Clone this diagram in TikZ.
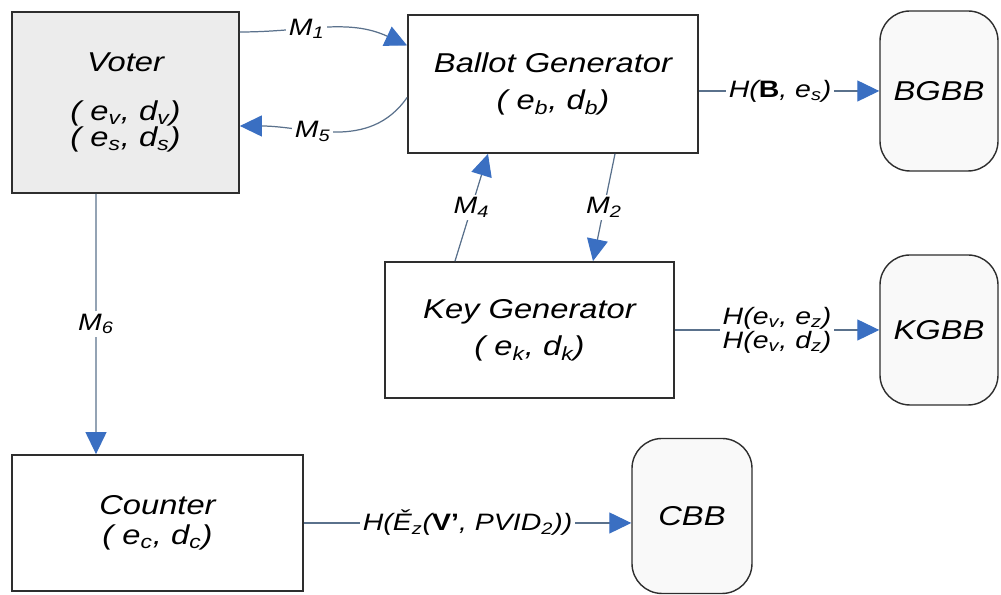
\documentclass[tikz,border=0pt]{standalone}
\usepackage{fontspec}
\setmainfont[FakeStretch=1.2]{Liberation Sans}
\definecolor{vsBorder}{HTML}{2E2E2E}
\definecolor{vsLine}{HTML}{5A718C}
\definecolor{vsArrow}{HTML}{3A6FC2}
\definecolor{vsVoter}{HTML}{ECECEC}
\definecolor{vsBoard}{HTML}{F9F9F9}
\usetikzlibrary{arrows.meta}

\tikzset{
  unit/.style={draw=vsBorder, line width=1pt, fill=white, align=center, inner sep=0pt,
    font=\fontsize{15.5}{19}\selectfont\itshape},
  board/.style={unit, fill=vsBoard, line width=0.8pt, rounded corners=0.6cm},
  flow/.style={draw=vsLine, line width=0.7pt,
    -{Triangle[length=0.44cm, width=0.42cm, color=vsArrow, fill=vsArrow]}},
  tag/.style={fill=white, inner sep=1.5pt, font=\fontsize{13.5}{15}\selectfont\itshape},
}

\begin{document}
\begin{tikzpicture}
  \useasboundingbox (0,0) rectangle (20.02,11.9);

  \node[unit, fill=vsVoter, minimum width=4.54cm, minimum height=3.62cm] (voter) at (2.51,9.85)
    {Voter\\[9pt]( e\textsubscript{v}, d\textsubscript{v})\\[-4pt]( e\textsubscript{s}, d\textsubscript{s})};
  \node[unit, minimum width=5.8cm, minimum height=2.76cm] (ballot) at (11.06,10.22)
    {Ballot Generator\\[2pt]( e\textsubscript{b}, d\textsubscript{b})};
  \node[unit, minimum width=5.78cm, minimum height=2.72cm] (keygen) at (10.59,5.30)
    {Key Generator\\[2pt]( e\textsubscript{k}, d\textsubscript{k})};
  \node[unit, minimum width=5.82cm, minimum height=2.72cm] (counter) at (3.15,1.44)
    {Counter\\[-2pt]( e\textsubscript{c}, d\textsubscript{c})};
  \node[board, minimum width=2.36cm, minimum height=3.2cm] (bgbb) at (18.78,10.08) {BGBB};
  \node[board, minimum width=2.36cm, minimum height=3.0cm] (kgbb) at (18.78,5.30) {KGBB};
  \node[board, minimum width=2.4cm, minimum height=3.1cm] (cbb) at (13.84,1.58) {CBB};

  \draw[flow] ([yshift=1.41cm]voter.east) to[out=0, in=155]
    node[tag, pos=0.38] {M\textsubscript{1}} ([yshift=0.77cm]ballot.west);
  \draw[flow] ([yshift=-0.27cm]ballot.west) to[out=-125, in=0]
    node[tag, pos=0.62] {M\textsubscript{5}} ([yshift=-0.47cm]voter.east);
  \draw[flow] ([xshift=-1.49cm]keygen.north) -- node[tag] {M\textsubscript{4}} ([xshift=-1.3cm]ballot.south);
  \draw[flow] ([xshift=1.24cm]ballot.south) -- node[tag] {M\textsubscript{2}} ([xshift=1.27cm]keygen.north);
  \draw[flow] ([xshift=-0.59cm]voter.south) -- node[tag] {M\textsubscript{6}} ([xshift=-1.23cm]counter.north);

  \draw[flow] (ballot.east |- bgbb.west) -- node[tag, pos=0.45]
    {H(\textbf{\upshape B}, e\textsubscript{s})} (bgbb.west);
  \draw[flow] (keygen.east |- kgbb.west) -- node[tag, align=center, font=\fontsize{13.5}{12}\selectfont\itshape]
    {H(e\textsubscript{v}, e\textsubscript{z})\\H(e\textsubscript{v}, d\textsubscript{z})} (kgbb.west);
  \draw[flow] (counter.east) -- node[tag]
    {H(\v{E}\textsubscript{z}(\textbf{\upshape V'}, PVID\textsubscript{2}))} (counter.east -| cbb.west);
\end{tikzpicture}
\end{document}
